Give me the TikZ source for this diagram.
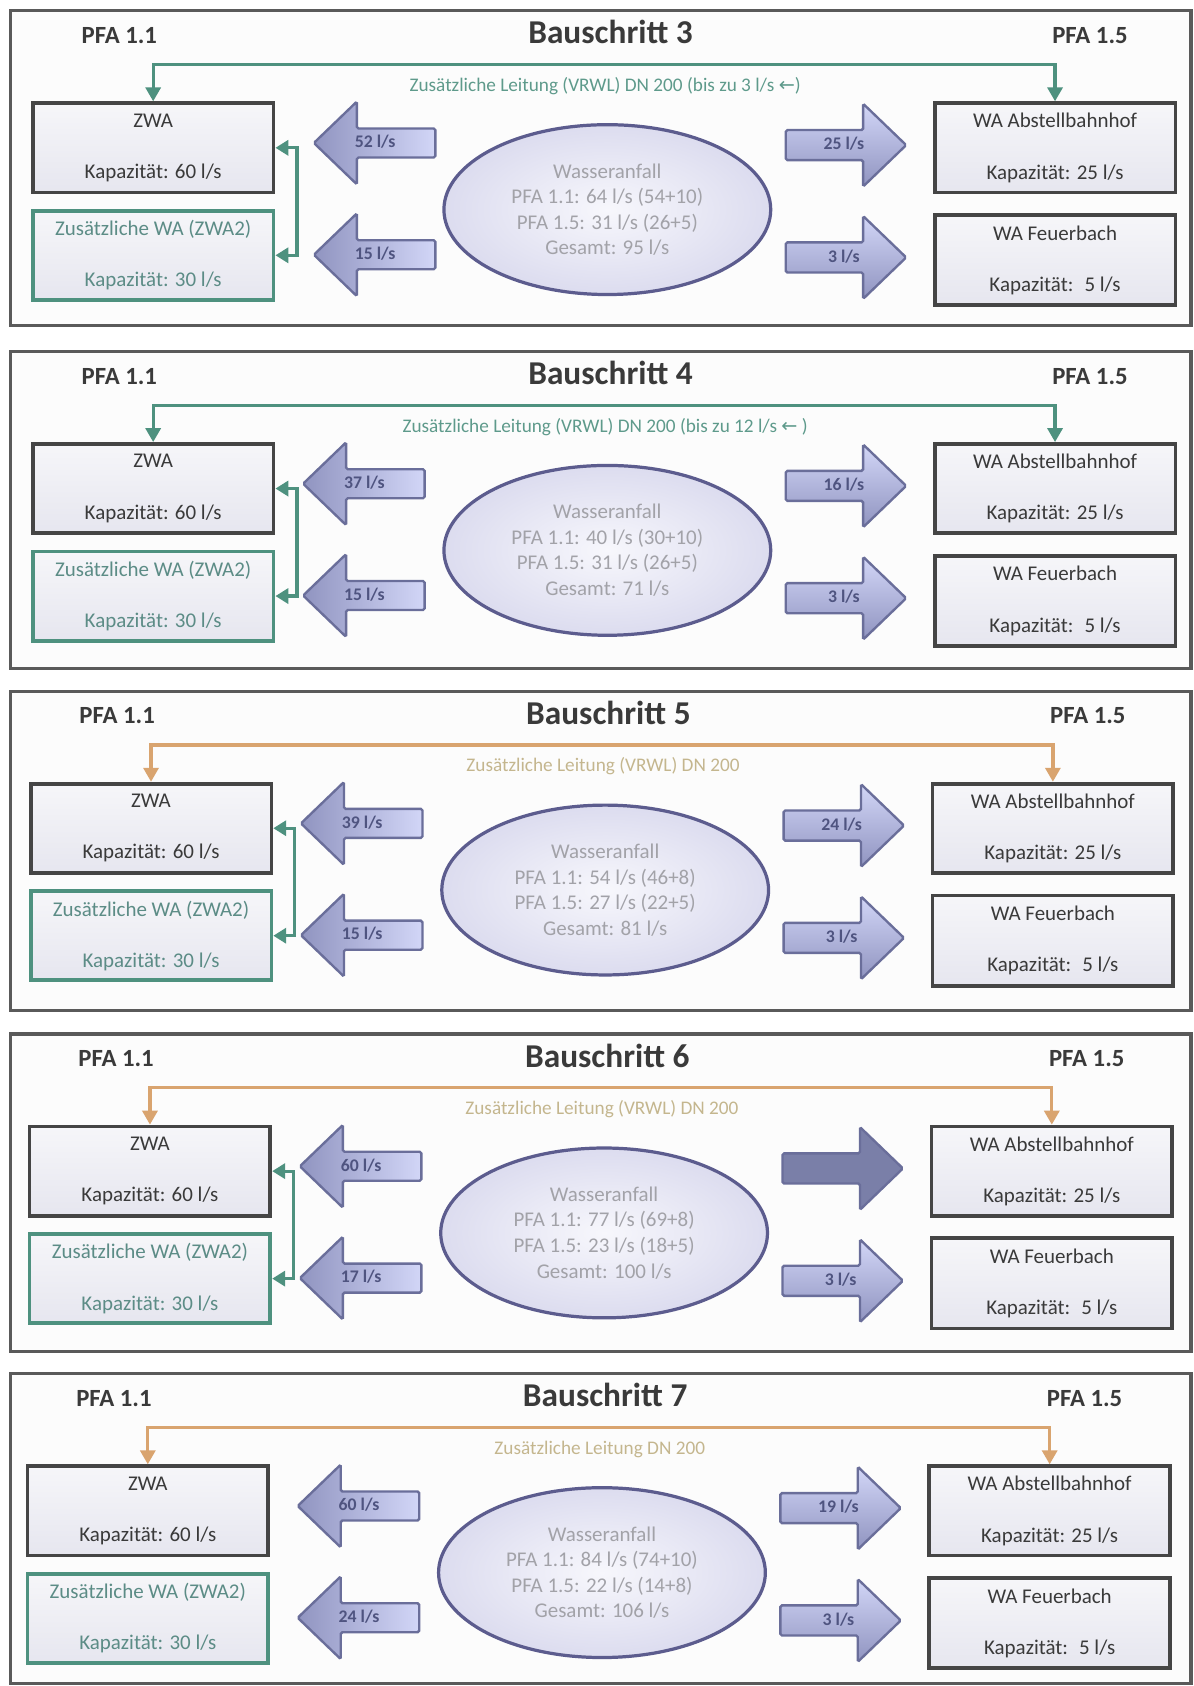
\documentclass[tikz,border=0pt]{standalone}
\usepackage{fontspec}
\setmainfont{Carlito}
\newfontfamily\bsSym{DejaVu Sans}
\usetikzlibrary{shapes.geometric,arrows.meta}

\definecolor{framegray}{HTML}{5A5A5A}
\definecolor{framefill}{HTML}{FCFCFC}
\definecolor{boxgray}{HTML}{454545}
\definecolor{txtdark}{HTML}{3A3A3A}
\definecolor{zgreen}{HTML}{4E917F}
\definecolor{ztext}{HTML}{5C8C86}
\definecolor{vgreenlbl}{HTML}{5E9A8B}
\definecolor{vorange}{HTML}{D9A46F}
\definecolor{vtanlbl}{HTML}{C4B68E}
\definecolor{ellborder}{HTML}{5C5C8E}
\definecolor{elltext}{HTML}{A2A2A8}
\definecolor{ellin}{HTML}{F7F7FC}
\definecolor{ellout}{HTML}{DCDCEF}
\definecolor{arrborder}{HTML}{6A6E9A}
\definecolor{arrlight}{HTML}{D2D6F7}
\definecolor{arrdark}{HTML}{9094C0}
\definecolor{arrsolid}{HTML}{7A7FA8}
\definecolor{arrlbl}{HTML}{4F5480}
\definecolor{boxtop}{HTML}{F6F6F9}
\definecolor{boxbot}{HTML}{E6E6EF}

\newcommand\bsBoxFont{\fontsize{19.5}{23.8}\selectfont}
\newcommand\bsTitleFont{\bfseries\fontsize{31}{37}\selectfont}
\newcommand\bsPfaFont{\bfseries\fontsize{23}{28}\selectfont}
\newcommand\bsLblFont{\fontsize{17.9}{21}\selectfont}
\newcommand\bsArrFont{\bfseries\fontsize{16.5}{19}\selectfont}
\newif\ifbsbracket

\tikzset{
  frame/.style={draw=framegray, line width=3pt, fill=framefill},
  wabox/.style={draw=boxgray, line width=3.5pt, top color=boxtop, bottom color=boxbot,
    minimum width=224pt, minimum height=83pt, align=center, text=txtdark,
    font=\bsBoxFont, inner sep=0pt},
  zwbbox/.style={wabox, draw=zgreen, text=ztext},
  titletext/.style={font=\bsTitleFont, text=txtdark},
  pfatext/.style={font=\bsPfaFont, text=txtdark},
  wellipse/.style={ellipse, draw=ellborder, line width=3pt, inner color=ellin, outer color=ellout,
    minimum width=304pt, minimum height=158pt, align=center, font=\bsBoxFont, text=elltext, inner sep=0pt},
  vline/.style={draw=\vcolor, line width=3pt,
    {Triangle[width=14pt,length=13pt]}-{Triangle[width=14pt,length=13pt]}},
  vlabel/.style={font=\bsLblFont, text=\vlabelcolor},
  bline/.style={draw=zgreen, line width=3pt,
    {Triangle[width=14pt,length=12pt]}-{Triangle[width=14pt,length=12pt]}},
  larrow/.style={draw=arrborder, line width=2.2pt, left color=arrdark, right color=arrlight, rounded corners=1.5pt},
  rarrow/.style={draw=arrborder, line width=2.2pt, top color=arrlight, bottom color=arrdark, rounded corners=1.5pt},
  rarrowdark/.style={draw=arrborder, line width=2.2pt, fill=arrsolid, rounded corners=1.5pt},
  arrlabel/.style={font=\bsArrFont, text=arrlbl, inner sep=1pt},
  leftblock/.pic={\path[pic actions] (0,0) -- (40,-38.5) -- (40,-13.5) -- (113,-13.5)
     -- (113,13.5) -- (40,13.5) -- (40,38.5) -- cycle;},
  rightblock/.pic={\path[pic actions] (0,-14) -- (72,-14) -- (72,-38.5) -- (112,0)
     -- (72,38.5) -- (72,14) -- (0,14) -- cycle;}
}

% #1 number, #2 top y, #3 xshift, #4 UL label, #5 LL label,
% #6 PFA 1.1 value, #7 PFA 1.5 value, #8 Gesamt, #9 UR label
\newcommand\bsPanel[9]{%
  \begin{scope}[shift={(0,#2)}]
    \draw[frame] (10,0) rectangle (1108,\frameh);
  \end{scope}
  \begin{scope}[shift={(#3,#2)}]
    \node[titletext] (t#1) at (568,20) {Bauschritt #1};
    \node[pfatext] (pl#1) at (111,23) {PFA 1.1};
    \node[pfatext] (pr#1) at (1014,23) {PFA 1.5};
    \node[wabox] (zwa#1) at (142.5,127.5) {ZWA\\[24pt]Kapazität: 60 l/s};
    \node[zwbbox] (zwb#1) at (142.5,227.5) {Zusätzliche WA (ZWA2)\\[24pt]Kapazität: 30 l/s};
    \node[wabox] (abst#1) at (981.5,127.5) {WA Abstellbahnhof\\[24pt]Kapazität: 25 l/s};
    \node[wabox, minimum height=84pt] (feu#1) at (981.5,232) {WA Feuerbach\\[24pt]Kapazität:~ 5 l/s};
    \node[wellipse] (ell#1) at (565,185) {Wasseranfall\\PFA 1.1: #6\\PFA 1.5: #7\\Gesamt: #8};
    \coordinate (v#1) at (565,50);
    \draw[vline] (zwa#1.north) |- (v#1) -| (abst#1.north);
    \node[vlabel] (vl#1) at (563,70) {\vrwltext};
    \ifbsbracket
      \draw[bline] (zwa#1.east) -- ++(20,0) |- (zwb#1.east);
    \fi
    \pic[larrow] at (\ltip,123) {leftblock};
    \pic[larrow] at (\ltip,227) {leftblock};
    \node[arrlabel] (ul#1) at (\ltip+57,122) {#4};
    \node[arrlabel] (ll#1) at (\ltip+57,226) {#5};
    \pic[\urstyle] at (731,125) {rightblock};
    \pic[rarrow] at (731,229.5) {rightblock};
    \if\relax\detokenize{#9}\relax\else
      \node[arrlabel] (ur#1) at (785,124) {#9};
    \fi
    \node[arrlabel] (lr#1) at (785,228.5) {3 l/s};
  \end{scope}}

\begin{document}
\begin{tikzpicture}[x=1pt,y=-1pt]
\useasboundingbox (0,0) rectangle (1110,1568.5);
\fill[white] (0,0) rectangle (1110,1568.5);

\def\frameh{293}\def\ltip{292}\def\vcolor{zgreen}\def\vlabelcolor{vgreenlbl}%
\def\vrwltext{Zusätzliche Leitung (VRWL) DN 200 (bis zu 3 l/s {\bsSym ←})}%
\bsbrackettrue\def\urstyle{rarrow}%
\bsPanel{3}{10}{0}{52 l/s}{15 l/s}{64 l/s (54+10)}{31 l/s (26+5)}{95 l/s}{25 l/s}

\def\frameh{295}\def\ltip{282}%
\def\vrwltext{Zusätzliche Leitung (VRWL) DN 200 (bis zu 12 l/s {\bsSym ←} )}%
\bsPanel{4}{327}{0}{37 l/s}{15 l/s}{40 l/s (30+10)}{31 l/s (26+5)}{71 l/s}{16 l/s}

\def\frameh{297}\def\vcolor{vorange}\def\vlabelcolor{vtanlbl}%
\def\vrwltext{Zusätzliche Leitung (VRWL) DN 200}%
\bsPanel{5}{643}{-2}{39 l/s}{15 l/s}{54 l/s (46+8)}{27 l/s (22+5)}{81 l/s}{24 l/s}

\def\frameh{295}\def\urstyle{rarrowdark}%
\bsPanel{6}{962}{-3}{60 l/s}{17 l/s}{77 l/s (69+8)}{23 l/s (18+5)}{100 l/s}{}

\def\frameh{288}\def\urstyle{rarrow}\bsbracketfalse%
\def\vrwltext{Zusätzliche Leitung DN 200}%
\bsPanel{7}{1278}{-5}{60 l/s}{24 l/s}{84 l/s (74+10)}{22 l/s (14+8)}{106 l/s}{19 l/s}

\end{tikzpicture}
\end{document}
